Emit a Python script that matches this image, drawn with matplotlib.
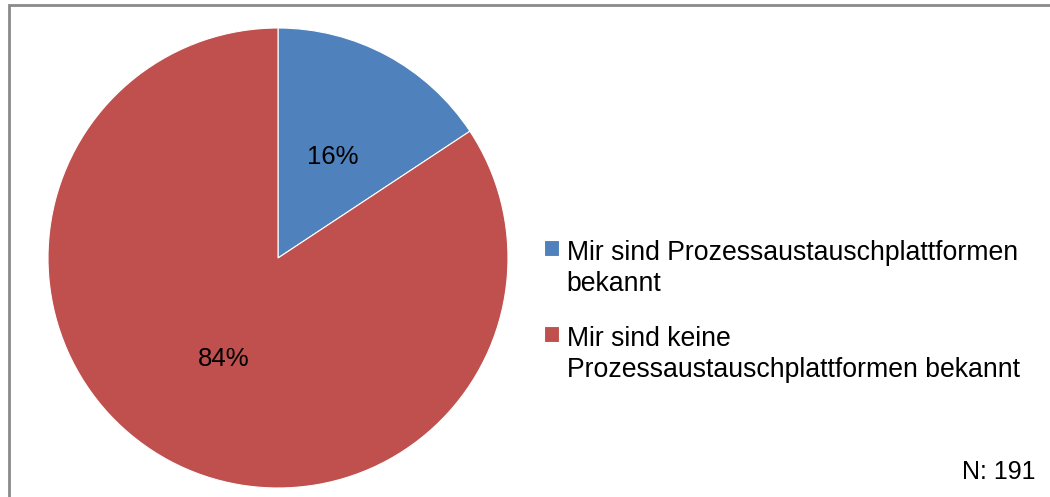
import matplotlib
matplotlib.use("Agg")
import matplotlib.pyplot as plt
from matplotlib.patches import Rectangle
from matplotlib.offsetbox import HPacker, DrawingArea

# survey answers (N = 191)
labels = ["Mir sind Prozessaustauschplattformen\nbekannt",
          "Mir sind keine\nProzessaustauschplattformen bekannt"]
counts = [30, 161]
colors = ["#4F81BD", "#C0504D"]
n_total = 191

plt.rcParams['font.family'] = ['Liberation Sans', 'DejaVu Sans']

W, H = 1050, 497
fig = plt.figure(figsize=(W / 100, H / 100), dpi=100)

# pie area: centre (278, 258), radius 230 px
cx, cy, r = 278, 258, 230
ax = fig.add_axes([(cx - r) / W, (H - cy - r) / H, 2 * r / W, 2 * r / H])
wedges, texts, autotexts = ax.pie(
    counts, colors=colors, startangle=90, counterclock=False,
    autopct=lambda p: "%d%%" % round(p), pctdistance=0.5,
    wedgeprops=dict(edgecolor="white", linewidth=0.8),
    textprops=dict(fontsize=18.5, color="black"))
ax.set_aspect("equal")
ax.set_xlim(-1, 1)
ax.set_ylim(-1, 1)

leg = ax.legend(wedges, labels, loc="upper left",
                bbox_to_anchor=(544 / W, 1 - 240 / H), bbox_transform=fig.transFigure,
                frameon=False, fontsize=19.2, handlelength=0.55, handleheight=0.55,
                handletextpad=0.3, labelspacing=1.1, borderpad=0, borderaxespad=0)
for t in leg.get_texts():
    t.set_linespacing(1.25)
# put the colour square next to the first line, like the original
for p in leg.findobj(lambda a: isinstance(a, HPacker)):
    ch = p.get_children()
    if len(ch) == 2 and isinstance(ch[0], DrawingArea):
        p.align = "top"

fig.text(1035 / W, 1 - 472 / H, "N: %d" % n_total, ha="right", va="center",
         fontsize=18)

# outer chart frame (right/bottom edges are cut off)
fig.add_artist(Rectangle((8.5 / W, -0.1), 1.2, 1.1 - 4.5 / H,
                         transform=fig.transFigure, fill=False,
                         edgecolor="#8a8a8a", linewidth=2))

fig.savefig("out.png", dpi=100)
